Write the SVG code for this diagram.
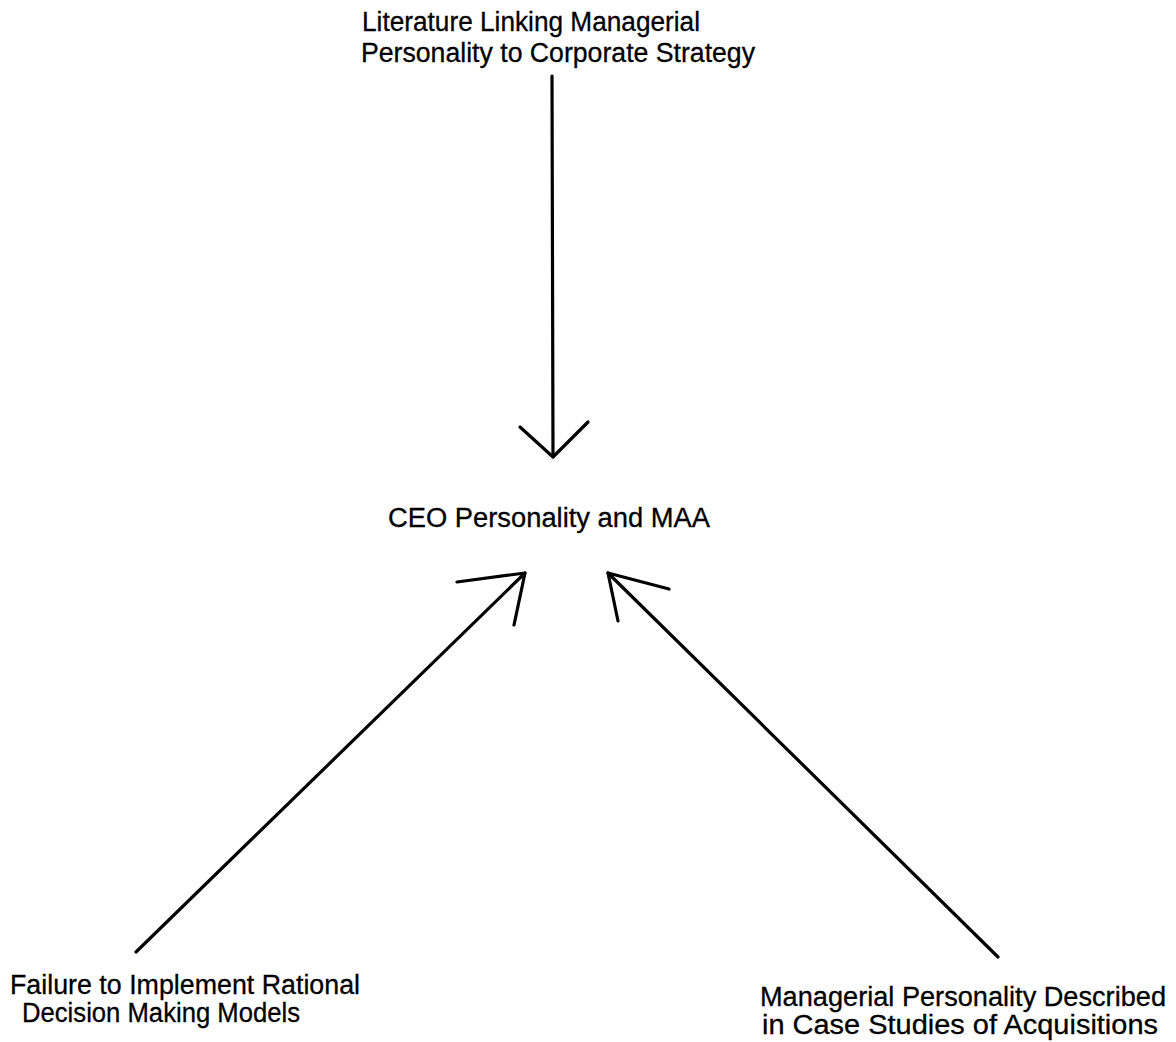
<svg xmlns="http://www.w3.org/2000/svg" width="1176" height="1042" viewBox="0 0 1176 1042">
<style>
text{font-family:"Liberation Sans",Arial,sans-serif;font-size:27px;fill:#000;stroke:#000;stroke-width:0.3}
.c{fill:none;stroke:#000;stroke-width:3.2;stroke-linecap:round;stroke-linejoin:round}
</style>
<rect width="1176" height="1042" fill="#fff"/>
<g id="node-literature">
<text x="362" y="31" textLength="338" lengthAdjust="spacingAndGlyphs">Literature Linking Managerial</text>
<text x="361" y="62" textLength="394" lengthAdjust="spacingAndGlyphs">Personality to Corporate Strategy</text>
</g>
<g id="node-ceo">
<text x="388" y="527" textLength="322" lengthAdjust="spacingAndGlyphs">CEO Personality and MAA</text>
</g>
<g id="node-failure">
<text x="10" y="994" textLength="350" lengthAdjust="spacingAndGlyphs">Failure to Implement Rational</text>
<text x="22" y="1022" textLength="278" lengthAdjust="spacingAndGlyphs">Decision Making Models</text>
</g>
<g id="node-managerial">
<text x="760" y="1006" textLength="406" lengthAdjust="spacingAndGlyphs">Managerial Personality Described</text>
<text x="762" y="1034" textLength="396" lengthAdjust="spacingAndGlyphs">in Case Studies of Acquisitions</text>
</g>
<g id="connectors">
<path class="c" d="M552 76 L553 456"/>
<path class="c" d="M520 427 L553 457 L588 422"/>
<path class="c" d="M136 952 L525 573"/>
<path class="c" d="M457 582 L525 573 L514 625"/>
<path class="c" d="M998 957 L608 573"/>
<path class="c" d="M669 589 L608 573 L618 621"/>
</g>
</svg>
